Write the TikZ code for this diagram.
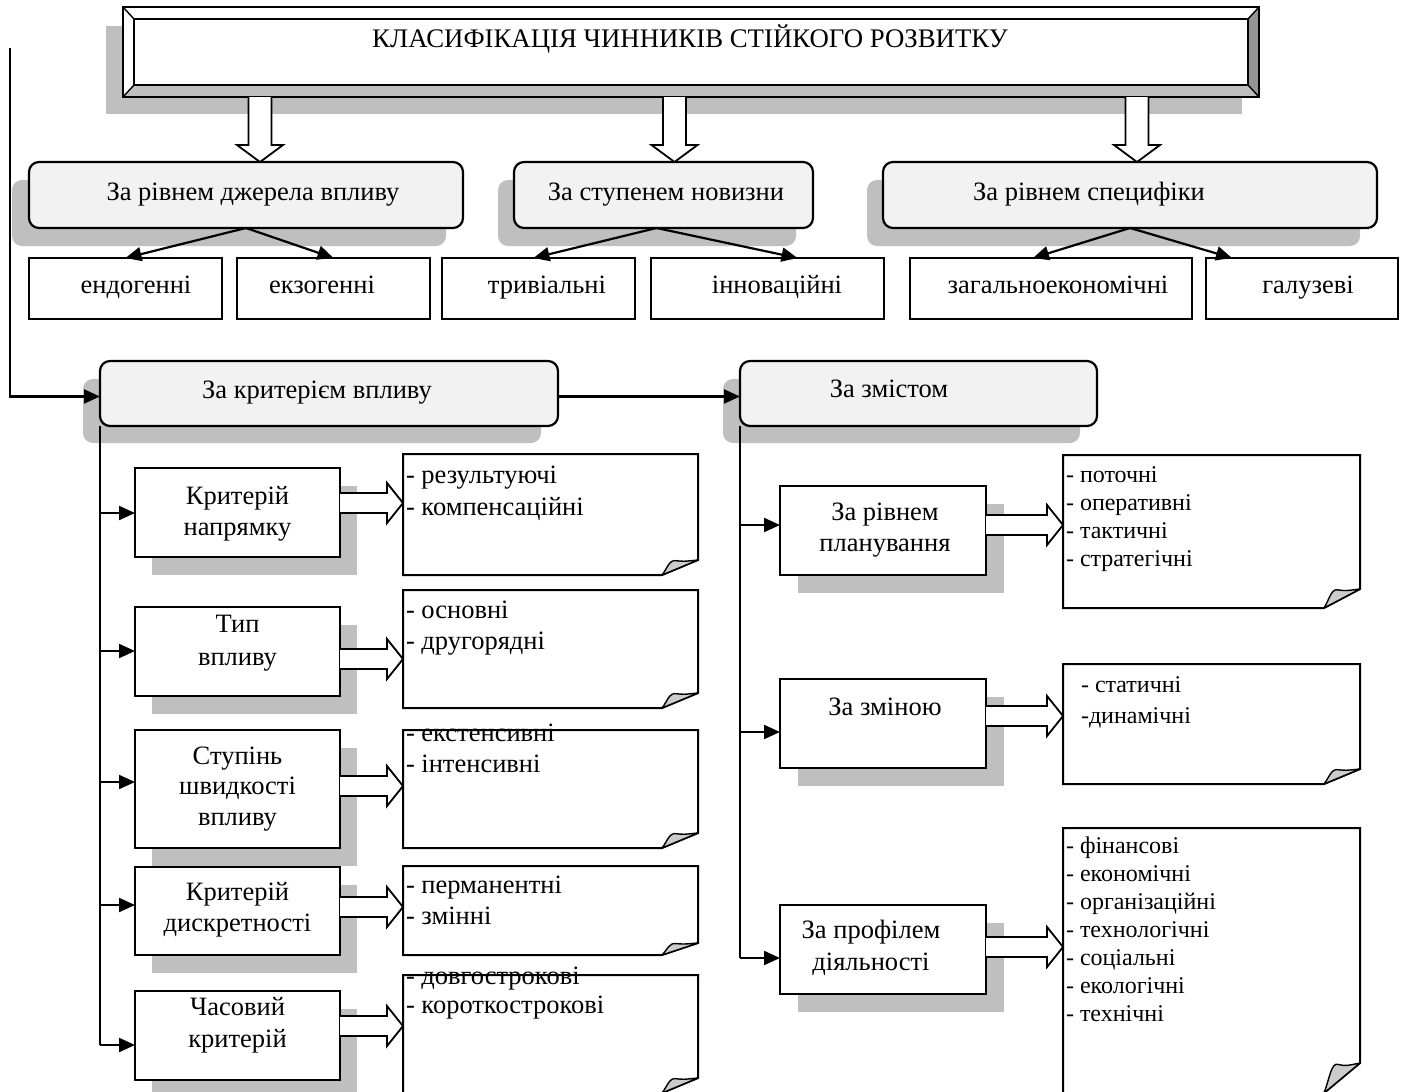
\documentclass[tikz,border=0pt]{standalone}
\usepackage{fontspec}
\setmainfont{Liberation Serif}
\usetikzlibrary{arrows.meta,calc}

% box placed by its corners: style, name, x1, y1, x2, y2
\newcommand\boxat[6]{\node[#1, minimum width={(#5)-(#3)}, minimum height={(#6)-(#4)}]
  (#2) at ({((#3)+(#5))/2},{((#4)+(#6))/2}) {};}
% grey drop shadow
\newcommand\shadowat[5][]{\fill[shade,#1] (#2,#3) rectangle (#4,#5);}
% note with a folded lower right corner: name, x1, y1, x2, y2, fold dx, fold dy
\newcommand\noteat[7]{%
  \node[minimum width={(#4)-(#2)}, minimum height={(#5)-(#3)}] (#1) at ({((#2)+(#4))/2},{((#3)+(#5))/2}) {};
  \filldraw[fill=white, line width=2pt, line join=miter]
    (#2,#3) -- (#4,#3) -- (#4,{#5-#7}) -- ({#4-#6},#5) -- (#2,#5) -- cycle;
  \filldraw[fill=black!20, line width=1.4pt, line join=round]
    ({#4-#6},#5) .. controls ({#4-0.85*#6},{#5-0.45*#7}) and ({#4-0.8*#6},{#5-1.05*#7}) ..
    ({#4-0.6*#6},{#5-0.95*#7}) .. controls ({#4-0.4*#6},{#5-0.9*#7}) .. (#4,{#5-#7}) -- cycle;}
% hollow block arrow from the east side of one node to the west side of another, at height y
\newcommand\blockarrow[3]{%
  \path[fill=white, draw, line width=1.8pt, line join=miter]
    let \p1=(#1.east), \p2=(#2.west), \p3=(0,#3) in
    (\x1,\y3+10pt) -- (\x2-16pt,\y3+10pt) -- (\x2-16pt,\y3+20pt) -- (\x2,\y3)
    -- (\x2-16pt,\y3-20pt) -- (\x2-16pt,\y3-10pt) -- (\x1,\y3-10pt);}
% hollow block arrow pointing down, from the south side of one node to the north side of another, at x
\newcommand\blockdown[3]{%
  \path[fill=white, draw, line width=1.8pt, line join=miter]
    let \p1=(#1.south), \p2=(#2.north), \p3=(#3,0) in
    (\x3-11.5pt,\y1) -- (\x3-11.5pt,\y2+17pt) -- (\x3-23pt,\y2+17pt) -- (\x3,\y2)
    -- (\x3+23pt,\y2+17pt) -- (\x3+11.5pt,\y2+17pt) -- (\x3+11.5pt,\y1);}
% lines of text set one below another: name, anchor, x, first baseline, step, font, list
\newcommand\textlines[7]{%
  \foreach \t [count=\i] in {#7}
    \node[anchor=#2, font=#6] (#1\i) at (#3,{#4+(\i-1)*#5}) {\t};}

\newcommand\boxfont{\fontsize{26.5}{31}\selectfont}
\newcommand\lnotefont{\fontsize{26.5}{31}\selectfont}
\newcommand\rnotefont{\fontsize{24}{28}\selectfont}

\begin{document}
\begin{tikzpicture}[x=1pt,y=-1pt,
  every node/.style={inner sep=0pt, outer sep=0pt},
  shade/.style={fill=black!25},
  rbox/.style={draw, line width=2.2pt, rounded corners=10pt, fill=black!5},
  pbox/.style={draw, line width=2.2pt, fill=white},
  link/.style={line width=2.2pt, -{Triangle[length=16pt,width=14pt]}},
  trunk/.style={line width=2.2pt},
]
\useasboundingbox (0,0) rectangle (1406,1092);

% ---------- title frame ----------
\shadowat{106}{26}{1242}{114}
\node[minimum width=1136, minimum height=90] (title) at (691,52) {};
\fill[white] (123,7) -- (1259,7) -- (1248,19) -- (134,19) -- cycle;
\fill[white] (123,7) -- (134,19) -- (134,85) -- (123,97) -- cycle;
\fill[black!42] (1259,7) -- (1259,97) -- (1248,85) -- (1248,19) -- cycle;
\fill[black!25] (123,97) -- (1259,97) -- (1248,85) -- (134,85) -- cycle;
\fill[white] (134,19) rectangle (1248,85);
\draw[line width=2pt] (title.north west) rectangle (title.south east);
\draw[line width=2pt] (134,19) rectangle (1248,85);
\draw[line width=1.4pt] (123,7) -- (134,19) (1259,7) -- (1248,19)
  (1259,97) -- (1248,85) (123,97) -- (134,85);
\node[anchor=base, font=\fontsize{26.8}{31}\selectfont] (titletext) at (690,47)
  {КЛАСИФІКАЦІЯ ЧИННИКІВ СТІЙКОГО РОЗВИТКУ};

% ---------- second row ----------
\shadowat[rounded corners=10pt]{12}{180}{446}{246}
\shadowat[rounded corners=10pt]{498}{180}{796}{246}
\shadowat[rounded corners=10pt]{867}{180}{1360}{246}
\boxat{rbox}{src}{29}{162}{463}{228}
\boxat{rbox}{nov}{514}{162}{813}{228}
\boxat{rbox}{spec}{883}{162}{1377}{228}
\node[anchor=base, font=\boxfont] (srct) at (253,200) {За рівнем джерела впливу};
\node[anchor=base, font=\boxfont] (novt) at (666,200) {За ступенем новизни};
\node[anchor=base, font=\boxfont] (spect) at (1089,200) {За рівнем специфіки};

\blockdown{title}{src}{260}
\blockdown{title}{nov}{674.5}
\blockdown{title}{spec}{1137}

% ---------- third row ----------
\boxat{pbox}{endo}{29}{258}{222}{319}
\boxat{pbox}{exo}{237}{258}{430}{319}
\boxat{pbox}{triv}{442}{258}{635}{319}
\boxat{pbox}{inno}{651}{258}{884}{319}
\boxat{pbox}{gen}{910}{258}{1192}{319}
\boxat{pbox}{ind}{1206}{258}{1398}{319}
\node[anchor=base, font=\boxfont] (endot) at (136,293) {ендогенні};
\node[anchor=base, font=\boxfont] (exot) at (322,293) {екзогенні};
\node[anchor=base, font=\boxfont] (trivt) at (547,293) {тривіальні};
\node[anchor=base, font=\boxfont] (innot) at (777,293) {інноваційні};
\node[anchor=base, font=\boxfont] (gent) at (1058,293) {загальноекономічні};
\node[anchor=base, font=\boxfont] (indt) at (1308,293) {галузеві};

\draw[link] (src.south) -- (endo.north);
\draw[link] (src.south) -- (exo.north);
\draw[link] ([xshift=-7]nov.south) -- ([xshift=-5]triv.north);
\draw[link] ([xshift=-7]nov.south) -- ([xshift=30]inno.north);
\draw[link] (spec.south) -- ([xshift=-18]gen.north);
\draw[link] (spec.south) -- ([xshift=-70]ind.north);

% ---------- fourth row ----------
\shadowat[rounded corners=10pt]{83}{379}{541}{443}
\shadowat[rounded corners=10pt]{723}{379}{1080}{443}
\boxat{rbox}{crit}{100}{361}{558}{426}
\boxat{rbox}{cont}{740}{361}{1097}{426}
\node[anchor=base, font=\boxfont] (critt) at (317,398) {За критерієм впливу};
\node[anchor=base, font=\boxfont] (contt) at (889,397) {За змістом};

\coordinate (feed) at (10,48);
\draw[link] (feed) |- ([yshift=-3]crit.west);
\draw[link] ([yshift=-3]crit.east) -- ([yshift=-3]cont.west);

% ---------- left column ----------
\foreach \ya/\yb in {468/557, 607/696, 730/848, 867/955, 991/1080}
  \shadowat{152}{\ya+18}{357}{\yb+18};
\boxat{pbox}{lb1}{135}{468}{340}{557}
\boxat{pbox}{lb2}{135}{607}{340}{696}
\boxat{pbox}{lb3}{135}{730}{340}{848}
\boxat{pbox}{lb4}{135}{867}{340}{955}
\boxat{pbox}{lb5}{135}{991}{340}{1080}
\textlines{lb1t}{base}{237.5}{504}{31}{\boxfont}{Критерій, напрямку}
\textlines{lb2t}{base}{237.5}{632}{33}{\boxfont}{Тип, впливу}
\textlines{lb3t}{base}{237.5}{764}{30.5}{\boxfont}{Ступінь, швидкості, впливу}
\textlines{lb4t}{base}{237.5}{900}{31}{\boxfont}{Критерій, дискретності}
\textlines{lb5t}{base}{237.5}{1015}{32}{\boxfont}{Часовий, критерій}

\noteat{ln1}{403}{454}{698}{575}{36}{15}
\noteat{ln2}{403}{590}{698}{708}{36}{15}
\noteat{ln3}{403}{730}{698}{848}{36}{15}
\noteat{ln4}{403}{866}{698}{955}{36}{12}
\noteat{ln5}{403}{975}{698}{1093}{36}{15}
\textlines{ln1t}{base west}{406}{483}{32}{\lnotefont}{- результуючі, - компенсаційні}
\textlines{ln2t}{base west}{406}{618}{31}{\lnotefont}{- основні, - другорядні}
\textlines{ln3t}{base west}{406}{741}{31}{\lnotefont}{- екстенсивні, - інтенсивні}
\textlines{ln4t}{base west}{406}{893}{31}{\lnotefont}{- перманентні, - змінні}
\textlines{ln5t}{base west}{406}{984}{29}{\lnotefont}{- довгострокові, - короткострокові}

\blockarrow{lb1}{ln1}{503}
\blockarrow{lb2}{ln2}{659}
\blockarrow{lb3}{ln3}{786}
\blockarrow{lb4}{ln4}{907}
\blockarrow{lb5}{ln5}{1026}

\coordinate (lj1) at (100,513);
\coordinate (lj2) at (100,651);
\coordinate (lj3) at (100,782);
\coordinate (lj4) at (100,905);
\coordinate (lj5) at (100,1045);
\draw[trunk] (crit.south west) -- (lj5);
\foreach \k in {1,...,5} \draw[link] (lj\k) -- (lj\k -| lb\k.west);

% ---------- right column ----------
\shadowat{798}{504}{1004}{593}
\shadowat{798}{697}{1004}{786}
\shadowat{798}{923}{1004}{1012}
\boxat{pbox}{rb1}{780}{486}{986}{575}
\boxat{pbox}{rb2}{780}{679}{986}{768}
\boxat{pbox}{rb3}{780}{905}{986}{994}
\textlines{rb1t}{base}{885}{520}{31}{\boxfont}{За рівнем, планування}
\textlines{rb2t}{base}{885}{715}{31}{\boxfont}{За зміною}
\textlines{rb3t}{base}{871}{938}{32}{\boxfont}{За профілем, діяльності}

\noteat{rn1}{1063}{455}{1360}{608}{36}{19}
\noteat{rn2}{1063}{664}{1360}{784}{36}{15}
\noteat{rn3}{1063}{828}{1360}{1093}{36}{30}
\textlines{rn1t}{base west}{1066}{482}{28}{\rnotefont}{- поточні, - оперативні, - тактичні, - стратегічні}
\textlines{rn2t}{base west}{1081}{692}{31}{\rnotefont}{- статичні, -динамічні}
\textlines{rn3t}{base west}{1066}{853}{28}{\rnotefont}{- фінансові, - економічні, - організаційні, - технологічні, - соціальні, - екологічні, - технічні}

\blockarrow{rb1}{rn1}{525}
\blockarrow{rb2}{rn2}{716}
\blockarrow{rb3}{rn3}{947}

\coordinate (rj1) at (740,525);
\coordinate (rj2) at (740,732);
\coordinate (rj3) at (740,958);
\draw[trunk] (cont.south west) -- (rj3);
\foreach \k in {1,2,3} \draw[link] (rj\k) -- (rj\k -| rb\k.west);
\end{tikzpicture}
\end{document}
